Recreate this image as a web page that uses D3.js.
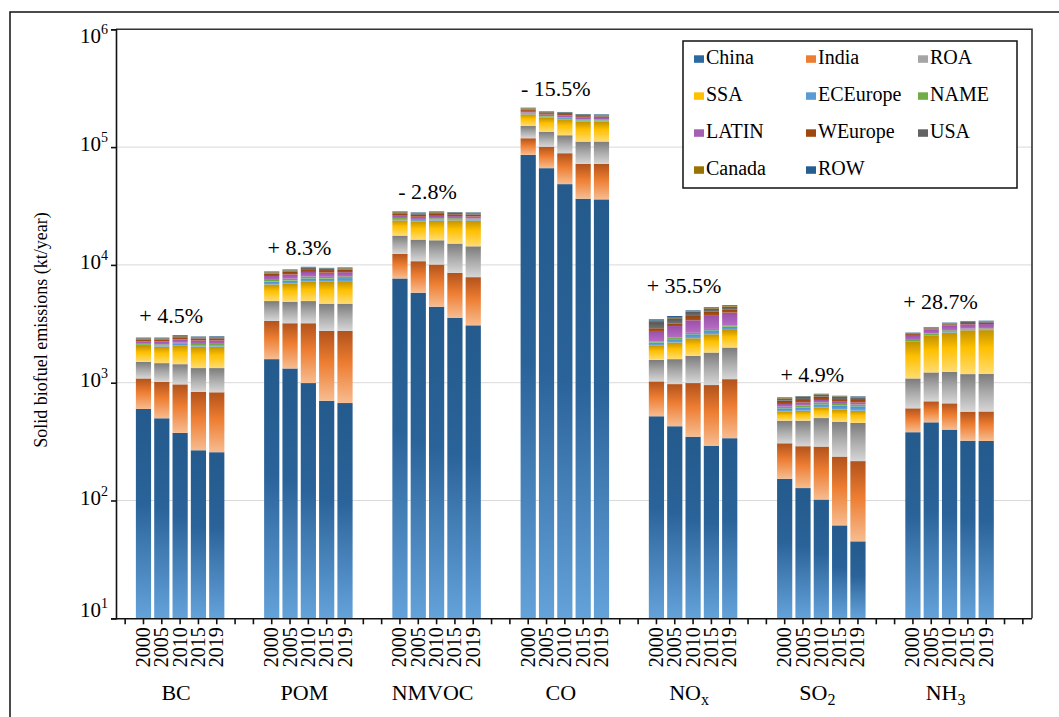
<!DOCTYPE html>
<html>
<head>
<meta charset="utf-8">
<script src="https://cdn.jsdelivr.net/npm/d3@7"></script>
<style>
  body { margin: 0; background: #fff; }
  svg text { font-family: "Liberation Serif", "Times New Roman", serif; fill: #000; }
</style>
</head>
<body>
<svg id="chart" width="1059" height="717" font-family="Liberation Serif, serif"></svg>
<script>
// Pollutants, years and regions
const pollutantMain = ["BC", "POM", "NMVOC", "CO", "NO", "SO", "NH"];
const pollutantSub  = ["", "", "", "", "x", "2", "3"];
const years = ["2000", "2005", "2010", "2015", "2019"];
const changeLabels = ["+ 4.5%", "+ 8.3%", "- 2.8%", "- 15.5%", "+ 35.5%", "+ 4.9%", "+ 28.7%"];
const regions = ["China", "India", "ROA", "SSA", "ECEurope", "NAME", "LATIN", "WEurope", "USA", "Canada", "ROW"];
const yTickExponents = [1, 2, 3, 4, 5, 6];

// Emissions (kt/year): one row per pollutant, one value per year
const chinaVals = [
  [598, 499, 375, 267, 257],
  [1585, 1321, 993, 703, 672],
  [7674, 5808, 4418, 3565, 3070],
  [85900, 66250, 48500, 36480, 36000],
  [519, 427, 348, 292, 338],
  [153, 127.5, 102, 61.5, 45],
  [380, 461, 400, 322, 320]
];
const indiaVals = [
  [489, 520, 593, 570, 572],
  [1757, 1877, 2205, 2045, 2076],
  [4741, 4942, 5662, 5005, 4800],
  [33000, 34650, 40250, 35600, 36000],
  [507, 546, 645, 663, 734],
  [153, 161.5, 185, 174.5, 171],
  [226, 234, 268, 246, 250]
];
const roaVals = [
  [416, 447, 468, 494, 502],
  [1590, 1677, 1734, 1942, 1942],
  [5325, 5650, 6100, 6600, 6510],
  [32100, 34300, 37350, 39320, 39500],
  [537, 612, 697, 848, 918],
  [170, 187, 214, 231, 239],
  [481, 527, 568, 615, 615]
];
const ssaVals = [
  [548, 558, 644, 693, 693],
  [1891, 2043, 2262, 2504, 2588],
  [6140, 7040, 7570, 8710, 9370],
  [38700, 42500, 46100, 53000, 52900],
  [517, 608, 692, 773, 815],
  [92, 102, 117, 123, 123],
  [1131, 1272, 1426, 1602, 1610]
];
const ecEuropeVals = [
  [45, 45, 55, 55, 56],
  [390, 440, 490, 450, 445],
  [550, 535, 565, 510, 500],
  [3950, 3525, 3975, 3990, 3795],
  [113, 146, 194, 209, 187],
  [38, 39, 37, 48, 52],
  [30, 35, 38, 30, 30]
];
const nameVals = [
  [40, 45, 50, 52, 54],
  [240, 270, 290, 270, 270],
  [550, 535, 565, 510, 500],
  [2630, 2350, 2650, 2660, 2530],
  [37, 75, 74, 75, 78],
  [19, 23, 25, 22, 22],
  [59, 83, 85, 63, 65]
];
const latinVals = [
  [110, 125, 145, 150, 152],
  [590, 670, 735, 680, 675],
  [1145, 1115, 1180, 1060, 1040],
  [6575, 5875, 6625, 6650, 6325],
  [518, 613, 738, 890, 866],
  [34, 41, 33, 29, 29],
  [234, 226, 285, 252, 255]
];
const wEuropeVals = [
  [85, 90, 100, 92, 94],
  [395, 445, 490, 445, 440],
  [1010, 980, 1035, 930, 910],
  [5260, 4700, 5300, 5320, 5060],
  [149, 163, 293, 283, 261],
  [44, 45, 47, 37, 45],
  [45, 50, 60, 80, 80]
];
const usaVals = [
  [45, 45, 50, 48, 48],
  [195, 220, 245, 225, 225],
  [825, 805, 850, 765, 745],
  [3945, 3525, 3975, 3990, 3795],
  [376, 334, 327, 243, 229],
  [33, 34, 31, 34, 25],
  [40, 45, 55, 70, 72]
];
const canadaVals = [
  [10, 10, 12, 11, 11],
  [55, 60, 65, 60, 60],
  [230, 225, 235, 210, 205],
  [1840, 1645, 1855, 1860, 1770],
  [90, 80, 55, 58, 70],
  [7, 5, 7, 7, 7],
  [18, 20, 26, 32, 33]
];
const rowVals = [
  [28, 30, 37, 33, 35],
  [101, 118, 125, 117, 115],
  [270, 265, 280, 255, 250],
  [2100, 1880, 2120, 2130, 2025],
  [87, 77, 48, 51, 65],
  [8, 6, 8, 8, 8],
  [18, 19, 25, 30, 30]
];

const regionValues = {
  China: chinaVals, India: indiaVals, ROA: roaVals, SSA: ssaVals,
  ECEurope: ecEuropeVals, NAME: nameVals, LATIN: latinVals,
  WEurope: wEuropeVals, USA: usaVals, Canada: canadaVals, ROW: rowVals
};

// Fill styles: vertical gradient stops per region (top -> bottom)
const regionStops = {
  China:    [[0, "#245a8c"], [0.45, "#2a6399"], [1, "#64a2da"]],
  India:    [[0, "#b2521b"], [0.45, "#ed7d31"], [1, "#f7bc90"]],
  ROA:      [[0, "#7b7b7b"], [0.5, "#ababab"], [1, "#d6d6d6"]],
  SSA:      [[0, "#c29200"], [0.4, "#ffc000"], [1, "#ffdc72"]],
  ECEurope: [[0, "#4a8cc8"], [1, "#6aa8de"]],
  NAME:     [[0, "#62a03b"], [1, "#7dba52"]],
  LATIN:    [[0, "#9a50a9"], [1, "#b56cc2"]],
  WEurope:  [[0, "#8e3f0b"], [1, "#ad5418"]],
  USA:      [[0, "#555555"], [1, "#727272"]],
  Canada:   [[0, "#8a6800"], [1, "#a67d05"]],
  ROW:      [[0, "#21547f"], [1, "#2c6699"]]
};
const legendColors = {
  China: "#2d69a1", India: "#ed7d31", ROA: "#a5a5a5", SSA: "#ffc000",
  ECEurope: "#5b9bd5", NAME: "#70ad47", LATIN: "#a65db4", WEurope: "#9e480e",
  USA: "#636363", Canada: "#997300", ROW: "#255e91"
};

const serif = "Liberation Serif, Times New Roman, serif";
const svg = d3.select("#chart");
const plot = { left: 116, right: 1032, top: 29.3, bottom: 618.3 };
const slotsPerGroup = years.length + 2;
const nSlots = 1 + pollutantMain.length * slotsPerGroup;   // leading gap + groups

// Stacked table: one row per bar
const rows = [];
pollutantMain.forEach((p, pi) => {
  years.forEach((yr, yi) => {
    const r = { slot: 1 + pi * slotsPerGroup + yi, pollutant: pi, year: yr };
    regions.forEach(k => { r[k] = regionValues[k][pi][yi]; });
    rows.push(r);
  });
});
const series = d3.stack().keys(regions)(rows);

const x = d3.scaleBand()
  .domain(d3.range(nSlots))
  .range([plot.left, plot.right])
  .paddingInner(0.17)
  .paddingOuter(0.085);
const y = d3.scaleLog().domain([10, 1e6]).range([plot.bottom, plot.top]);
const cx = s => x(s) + x.bandwidth() / 2;

// Gradients
const defs = svg.append("defs");
regions.forEach(k => {
  const g = defs.append("linearGradient")
    .attr("id", "grad-" + k)
    .attr("x1", 0).attr("y1", 0).attr("x2", 0).attr("y2", 1);
  regionStops[k].forEach(([o, c]) => g.append("stop").attr("offset", o).attr("stop-color", c));
});

// Outer figure frame (left and top edges visible)
svg.append("path")
  .attr("d", "M10,717 L10,12 L1059,12")
  .attr("fill", "none").attr("stroke", "#111").attr("stroke-width", 1.5);

// Gridlines
svg.append("g").selectAll("line")
  .data(yTickExponents.slice(1, -1))
  .join("line")
  .attr("x1", plot.left).attr("x2", plot.right)
  .attr("y1", e => y(Math.pow(10, e))).attr("y2", e => y(Math.pow(10, e)))
  .attr("stroke", "#d9d9d9").attr("stroke-width", 1);

// Bars
svg.append("g").selectAll("g")
  .data(series)
  .join("g")
  .attr("fill", d => "url(#grad-" + d.key + ")")
  .selectAll("rect")
  .data(d => d)
  .join("rect")
  .attr("x", d => x(d.data.slot))
  .attr("width", x.bandwidth())
  .attr("y", d => y(d[1]))
  .attr("height", d => Math.max(0, y(Math.max(d[0], 10)) - y(d[1])));

// Plot frame: top and right edges
svg.append("path")
  .attr("d", `M${plot.left},${plot.top} L${plot.right},${plot.top} L${plot.right},${plot.bottom}`)
  .attr("fill", "none").attr("stroke", "#333").attr("stroke-width", 1.6);

// Y axis
const yAxis = svg.append("g")
  .attr("transform", `translate(${plot.left},0)`)
  .call(d3.axisLeft(y).tickValues(yTickExponents.map(e => Math.pow(10, e))).tickSize(5).tickFormat(""));
yAxis.selectAll("path, line").attr("stroke", "#111").attr("stroke-width", 1.6);

const yLabels = svg.append("g").selectAll("text")
  .data(yTickExponents)
  .join("text")
  .attr("x", 108)
  .attr("y", e => Math.min(617, Math.max(43, y(Math.pow(10, e)) + 4)))
  .attr("text-anchor", "end")
  .attr("font-family", serif)
  .style("font-size", "21px");
yLabels.append("tspan").text("10");
yLabels.append("tspan").text(e => e).attr("dy", -9).style("font-size", "14px");

// X axis with a tick at every slot
const xAxis = svg.append("g")
  .attr("transform", `translate(0,${plot.bottom})`)
  .call(d3.axisBottom(x).tickSize(6).tickFormat("").tickSizeOuter(0));
xAxis.select(".domain").attr("d", `M${plot.left - 5},0.5H${plot.right}`);
xAxis.selectAll("path, line").attr("stroke", "#111").attr("stroke-width", 1.6);

// Year labels (vertical)
svg.append("g").selectAll("text")
  .data(rows)
  .join("text")
  .attr("transform", d => `translate(${cx(d.slot) + 6.5},${plot.bottom + 9}) rotate(-90)`)
  .attr("text-anchor", "end")
  .attr("font-family", serif)
  .style("font-size", "20px")
  .text(d => d.year);

// Pollutant names
const groupCenter = pi => cx(1 + pi * slotsPerGroup + 2);
const catLabels = svg.append("g").selectAll("text")
  .data(pollutantMain.map((m, i) => ({ m, s: pollutantSub[i], i })))
  .join("text")
  .attr("x", d => groupCenter(d.i) - 4)
  .attr("y", 700)
  .attr("text-anchor", "middle")
  .attr("font-family", serif)
  .style("font-size", "22px");
catLabels.append("tspan").text(d => d.m);
catLabels.filter(d => d.s).append("tspan").text(d => d.s).attr("dy", 5).style("font-size", "16px");

// Change labels above each group
const groupMax = pollutantMain.map((p, pi) =>
  d3.max(rows.filter(r => r.pollutant === pi), r => d3.sum(regions, k => r[k])));
svg.append("g").selectAll("text")
  .data(changeLabels)
  .join("text")
  .attr("x", (d, i) => groupCenter(i) - 9)
  .attr("y", (d, i) => y(groupMax[i]) - 12)
  .attr("text-anchor", "middle")
  .attr("font-family", serif)
  .style("font-size", "22px")
  .text(d => d);

// Y axis title
svg.append("text")
  .attr("transform", "translate(47,330) rotate(-90)")
  .attr("text-anchor", "middle")
  .attr("font-family", serif)
  .style("font-size", "18px")
  .text("Solid biofuel emissions (kt/year)");

// Legend
const legend = svg.append("g");
legend.append("rect")
  .attr("x", 683).attr("y", 41).attr("width", 334).attr("height", 147)
  .attr("fill", "#fff").attr("stroke", "#111").attr("stroke-width", 1.5);
const items = legend.selectAll("g.item")
  .data(regions)
  .join("g")
  .attr("class", "item")
  .attr("transform", (d, i) => `translate(${694 + (i % 3) * 112},${64.3 + Math.floor(i / 3) * 37})`);
items.append("rect")
  .attr("x", 0).attr("y", -9).attr("width", 10).attr("height", 7.5)
  .attr("fill", d => legendColors[d]);
items.append("text")
  .attr("x", 12).attr("y", 0)
  .attr("font-family", serif)
  .style("font-size", "20px")
  .text(d => d);
</script>
</body>
</html>
